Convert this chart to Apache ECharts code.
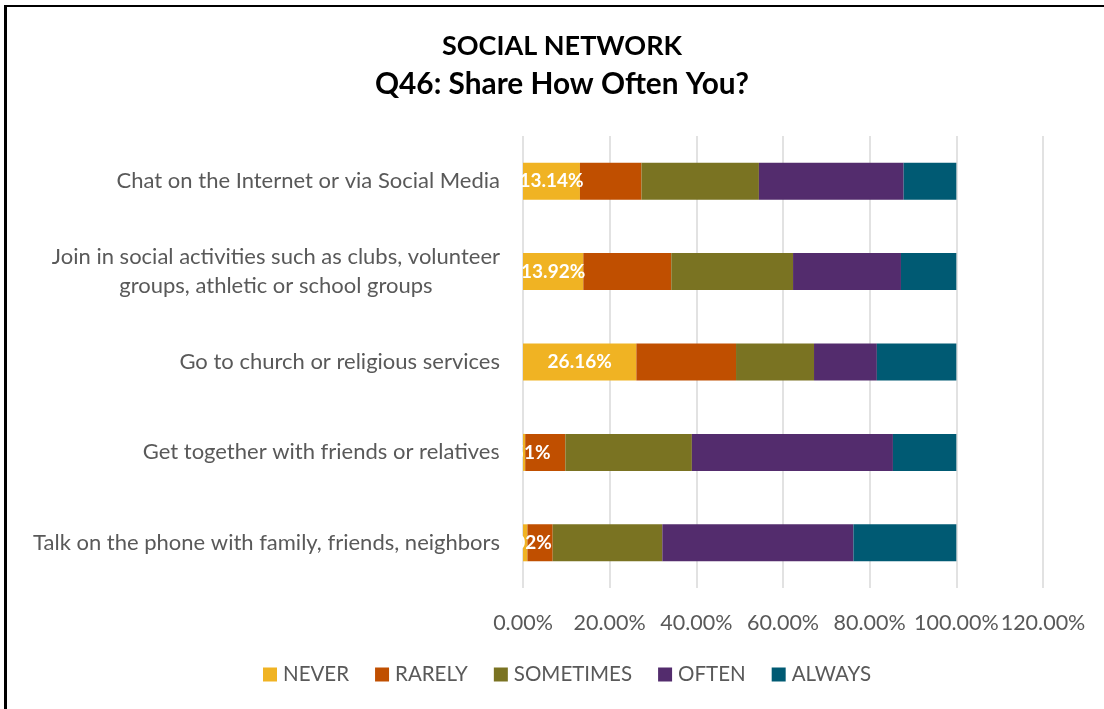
<!DOCTYPE html>
<html>
<head>
<meta charset="utf-8">
<script src="https://cdn.jsdelivr.net/npm/echarts@6/dist/echarts.min.js"></script>
<style>
html,body{margin:0;padding:0;background:#fff;}
#chart{width:1104px;height:709px;}
</style>
</head>
<body>
<div id="chart"></div>
<script>
const categories = [
  "Chat on the Internet or via Social Media",
  "Join in social activities such as clubs, volunteer\ngroups, athletic or school groups",
  "Go to church or religious services",
  "Get together with friends or relatives",
  "Talk on the phone with family, friends, neighbors"
];
const seriesNames = ["NEVER", "RARELY", "SOMETIMES", "OFTEN", "ALWAYS"];
const never     = [13.14, 13.92, 26.16, 0.51, 1.02];
const rarely    = [14.20, 20.30, 23.00, 9.26, 5.83];
const sometimes = [27.10, 28.10, 18.00, 29.20, 25.30];
const often     = [33.40, 24.90, 14.50, 46.40, 44.10];
const always    = [12.16, 12.78, 18.34, 14.63, 23.75];
const xTicks = [0, 20, 40, 60, 80, 100, 120];
const colors = ["#F0B323", "#C04F00", "#7A7322", "#532C6D", "#005A73"];

const FONT = "Lato";
const values = [never, rarely, sometimes, often, always];

const chart = echarts.init(document.getElementById('chart'));
chart.setOption({
  animation: false,
  backgroundColor: '#fff',
  color: colors,
  title: {
    text: '{a|SOCIAL NETWORK}\n{b|Q46: Share How Often You?}',
    left: 557,
    top: 22,
    padding: 5,
    textAlign: 'center',
    textStyle: {
      fontFamily: FONT, fontWeight: 'bold', fontSize: 27, color: '#000', lineHeight: 38,
      rich: {
        a: { fontFamily: FONT, fontWeight: 'bold', fontSize: 27, color: '#000', lineHeight: 38, align: 'center' },
        b: { fontFamily: FONT, fontWeight: 'bold', fontSize: 29.8, color: '#000', lineHeight: 39, align: 'center' }
      }
    }
  },
  graphic: [
    { type: 'line', shape: { x1: 5.5, y1: 5, x2: 5.5, y2: 709 }, style: { stroke: '#000', lineWidth: 3 } },
    { type: 'line', shape: { x1: 4, y1: 6, x2: 1104, y2: 6 }, style: { stroke: '#000', lineWidth: 2 } }
  ],
  legend: {
    data: seriesNames,
    bottom: 19,
    left: 258,
    icon: 'rect',
    itemWidth: 14,
    itemHeight: 14,
    itemGap: 26,
    textStyle: { fontFamily: FONT, fontSize: 20.5, color: '#595959', padding: [0, 0, 0, 1] }
  },
  grid: { left: 523, right: 61, top: 136, bottom: 121, containLabel: false },
  xAxis: {
    type: 'value',
    min: xTicks[0],
    max: xTicks[xTicks.length - 1],
    interval: 20,
    axisLine: { show: false },
    axisTick: { show: false },
    splitLine: { show: true, lineStyle: { color: '#D9D9D9', width: 1.5 } },
    axisLabel: {
      margin: 24,
      fontFamily: FONT, fontSize: 21.5, color: '#595959',
      formatter: v => v.toFixed(2) + '%'
    }
  },
  yAxis: {
    type: 'category',
    data: categories,
    inverse: true,
    axisLine: { show: false },
    axisTick: { show: false },
    axisLabel: {
      margin: 23,
      fontFamily: FONT, fontSize: 22, color: '#595959', lineHeight: 29,
      formatter: v => v.indexOf('\n') >= 0
        ? v.split('\n').map(s => '{c|' + s + '}').join('\n')
        : v,
      rich: { c: { align: 'center', fontFamily: FONT, fontSize: 22, color: '#595959', lineHeight: 29 } }
    }
  },
  series: seriesNames.map((name, i) => ({
    name: name,
    type: 'bar',
    stack: 'total',
    barWidth: 37,
    data: values[i],
    itemStyle: { color: colors[i] },
    label: i === 0 ? {
      show: true,
      position: 'inside',
      color: '#fff',
      fontFamily: FONT,
      fontWeight: 'bold',
      fontSize: 19,
      formatter: p => p.value.toFixed(2) + '%'
    } : { show: false }
  }))
});
</script>
</body>
</html>
